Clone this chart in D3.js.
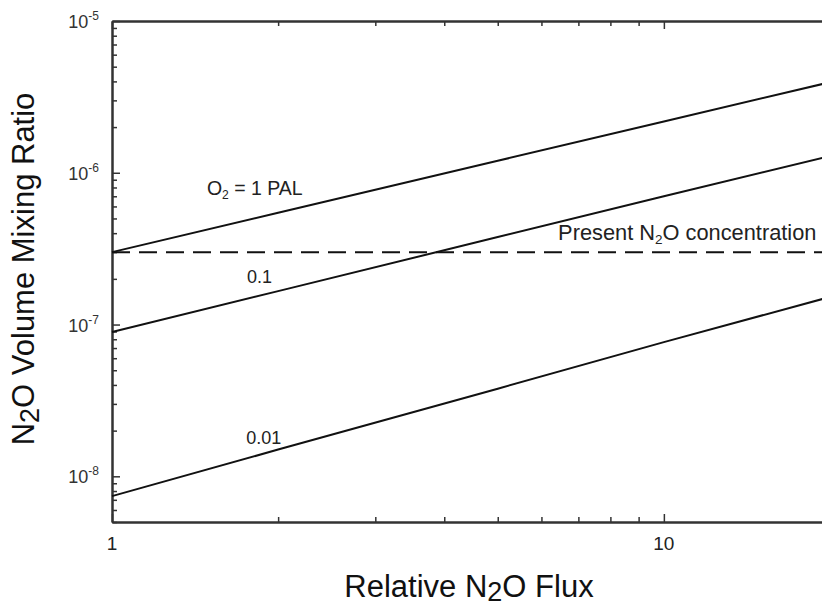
<!DOCTYPE html>
<html>
<head>
<meta charset="utf-8">
<script src="https://cdn.jsdelivr.net/npm/d3@7"></script>
<style>
  body { margin: 0; background: #fff; }
  svg { display: block; font-family: "Liberation Sans", Arial, sans-serif; }
</style>
</head>
<body>
<script>
// relative N2O flux (x) and mixing ratios for three O2 levels
const fluxValues = [1, 2, 5, 10, 20];
const ratioPal1 = [3.0e-7, 5.45e-7, 1.2e-6, 2.18e-6, 3.95e-6];
const ratioPal01 = [8.93e-8, 1.66e-7, 3.77e-7, 7.0e-7, 1.29e-6];
const ratioPal001 = [7.4e-9, 1.5e-8, 3.78e-8, 7.66e-8, 1.52e-7];
const presentN2O = 3.0e-7;

const xMajorTicks = [1, 10];
const xMinorTicks = [2, 3, 4, 5, 6, 7, 8, 9, 20];
const yMajorExponents = [-5, -6, -7, -8];
const xTickLabels = ["1", "10"];

let width = 822;
let height = 607;
let margin = { top: 21, right: -8, bottom: 85, left: 112 };

const svg = d3.select("body").append("svg")
    .attr("width", width)
    .attr("height", height);

const x = d3.scaleLog([1, 20], [margin.left, width - margin.right]);
const y = d3.scaleLog([5e-9, 1e-5], [height - margin.bottom, margin.top]);

const yMinorTicks = [];
yMajorExponents.forEach(e => {
    for (let k = 2; k <= 9; k++) {
        const v = k * Math.pow(10, e - 1);
        if (v >= 5e-9) yMinorTicks.push(v);
    }
});

const axisColor = "#333";

function styleAxis(g) {
    g.select(".domain").attr("stroke", axisColor).attr("stroke-width", 2);
    g.selectAll(".tick line").attr("stroke", axisColor).attr("stroke-width", 1.5);
    g.selectAll(".tick text").remove();
}

// bottom + top axes
[[d3.axisBottom, height - margin.bottom], [d3.axisTop, margin.top]].forEach(([ax, pos]) => {
    svg.append("g").attr("transform", `translate(0,${pos})`)
        .call(ax(x).tickValues(xMajorTicks).tickSize(-8).tickSizeOuter(0))
        .call(styleAxis);
    svg.append("g").attr("transform", `translate(0,${pos})`)
        .call(ax(x).tickValues(xMinorTicks).tickSize(-5).tickSizeOuter(0))
        .call(styleAxis);
});

// left + right axes
[[d3.axisLeft, margin.left], [d3.axisRight, width - margin.right]].forEach(([ax, pos]) => {
    svg.append("g").attr("transform", `translate(${pos},0)`)
        .call(ax(y).tickValues(yMajorExponents.map(e => Math.pow(10, e))).tickSize(-8).tickSizeOuter(0))
        .call(styleAxis);
    svg.append("g").attr("transform", `translate(${pos},0)`)
        .call(ax(y).tickValues(yMinorTicks).tickSize(-5).tickSizeOuter(0))
        .call(styleAxis);
});

// x tick labels
svg.append("g")
    .selectAll("text")
    .data(xMajorTicks)
    .join("text")
    .attr("x", d => x(d))
    .attr("y", height - margin.bottom + 28)
    .attr("text-anchor", "middle")
    .attr("font-size", 19)
    .attr("fill", "#222")
    .text((d, i) => xTickLabels[i]);

// y tick labels as 10^e
const yLabels = svg.append("g")
    .selectAll("text")
    .data(yMajorExponents)
    .join("text")
    .attr("x", margin.left - 13)
    .attr("y", d => y(Math.pow(10, d)) + 7)
    .attr("text-anchor", "end")
    .attr("fill", "#333")
    .attr("font-size", 18);
yLabels.append("tspan").text("10");
yLabels.append("tspan").attr("dy", -8).attr("font-size", 12).text(d => "-" + Math.abs(d));

// present-day N2O level
svg.append("line")
    .attr("x1", x(1))
    .attr("x2", x(19.4))
    .attr("y1", y(presentN2O))
    .attr("y2", y(presentN2O))
    .attr("stroke", "#111")
    .attr("stroke-width", 2)
    .attr("stroke-dasharray", "18,9");

// curves
const line = d3.line()
    .x(d => x(d[0]))
    .y(d => y(d[1]));

svg.append("g")
    .attr("fill", "none")
    .attr("stroke", "#111")
    .attr("stroke-width", 2)
    .selectAll("path")
    .data([ratioPal1, ratioPal01, ratioPal001])
    .join("path")
    .attr("d", series => line(d3.zip(fluxValues, series)));

// curve labels
function subText(g, parts, size) {
    parts.forEach(([txt, sub]) => {
        g.append("tspan")
            .attr("font-size", sub ? size * 0.62 : size)
            .attr("dy", sub ? 4 : (g.selectAll("tspan").size() > 1 ? -4 : 0))
            .text(txt);
    });
}

const labelColor = "#222";

svg.append("text")
    .attr("x", x(1.486)).attr("y", y(7.16e-7))
    .attr("fill", labelColor)
    .call(g => subText(g, [["O"], ["2", true], [" = 1 PAL"]], 19.5));

svg.append("text")
    .attr("x", x(1.757)).attr("y", y(1.88e-7))
    .attr("fill", labelColor).attr("font-size", 18)
    .text("0.1");

svg.append("text")
    .attr("x", x(1.75)).attr("y", y(1.63e-8))
    .attr("fill", labelColor).attr("font-size", 18)
    .text("0.01");

svg.append("text")
    .attr("x", x(18.9)).attr("y", y(presentN2O) - 12)
    .attr("text-anchor", "end")
    .attr("fill", labelColor)
    .call(g => subText(g, [["Present N"], ["2", true], ["O concentration"]], 21.8));

// axis titles
svg.append("text")
    .attr("x", 469)
    .attr("y", 597)
    .attr("text-anchor", "middle")
    .attr("fill", "#111")
    .call(g => {
        g.append("tspan").attr("font-size", 31).text("Relative N");
        g.append("tspan").attr("font-size", 27).attr("dy", 4).text("2");
        g.append("tspan").attr("font-size", 31).attr("dy", -4).text("O Flux");
    });

svg.append("text")
    .attr("transform", "translate(34,269) rotate(-90)")
    .attr("text-anchor", "middle")
    .attr("fill", "#111")
    .call(g => {
        g.append("tspan").attr("font-size", 31).text("N");
        g.append("tspan").attr("font-size", 27).attr("dy", 5).text("2");
        g.append("tspan").attr("font-size", 31).attr("dy", -5).text("O Volume Mixing Ratio");
    });
</script>
</body>
</html>
